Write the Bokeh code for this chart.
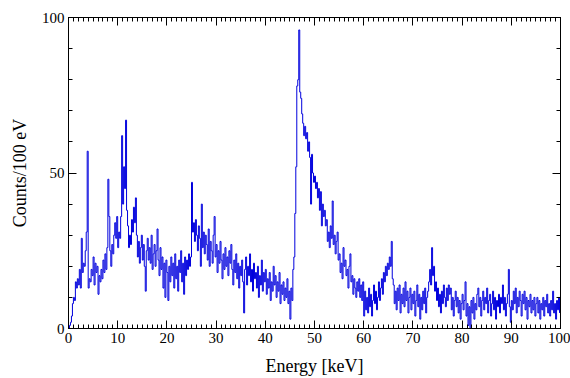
import numpy as np
from bokeh.plotting import figure
from bokeh.models import Range1d, LinearAxis, SingleIntervalTicker, ColumnDataSource
from bokeh.embed import file_html
from bokeh.resources import INLINE

# Counts per 0.2 keV step, segment by segment
counts_00_10 = [0, 1, 2, 4, 8, 10, 9, 15, 13, 16, 14, 19, 13, 29, 18, 21, 20, 25, 31, 57,
                13, 16, 15, 19, 17, 23, 14, 21, 18, 20, 11, 17, 15, 19, 16, 22, 18, 24, 19, 26,
                48, 36, 25, 20, 27, 24, 30, 34, 29, 36]
counts_10_20 = [26, 31, 29, 36, 62, 40, 52, 45, 67, 38, 33, 26, 30, 27, 35, 31, 39, 34, 42, 30,
                23, 28, 21, 26, 30, 22, 27, 20, 12, 25, 29, 22, 26, 21, 30, 19, 24, 27, 20, 25,
                32, 22, 17, 26, 19, 23, 13, 21, 10, 22]
counts_20_30 = [18, 9, 20, 15, 23, 17, 21, 13, 24, 16, 20, 12, 22, 18, 25, 15, 21, 11, 23, 17,
                22, 19, 24, 20, 23, 47, 31, 34, 28, 35, 30, 25, 33, 29, 20, 40, 26, 31, 24, 30,
                27, 22, 32, 20, 28, 25, 21, 30, 36, 23]
counts_30_40 = [27, 18, 25, 21, 28, 22, 16, 24, 19, 26, 20, 23, 17, 25, 21, 27, 19, 14, 22, 18,
                24, 16, 21, 13, 20, 17, 22, 15, 5, 19, 23, 14, 20, 17, 24, 15, 19, 12, 21, 16,
                18, 13, 20, 10, 17, 14, 22, 12, 18, 15]
counts_40_50 = [19, 11, 16, 13, 18, 9, 15, 12, 20, 14, 17, 10, 15, 12, 18, 8, 14, 11, 15, 9,
                13, 10, 16, 8, 12, 3, 13, 9, 19, 23, 37, 52, 78, 80, 96, 76, 74, 69, 66, 62,
                65, 61, 63, 57, 60, 55, 40, 56, 50, 47]
counts_50_60 = [49, 45, 47, 42, 45, 38, 44, 33, 40, 36, 38, 33, 35, 28, 31, 26, 33, 29, 41, 27,
                30, 24, 28, 31, 22, 24, 18, 21, 16, 26, 20, 22, 17, 19, 13, 20, 24, 15, 17, 11,
                16, 13, 10, 15, 12, 16, 10, 14, 9, 15]
counts_60_70 = [4, 12, 6, 10, 5, 13, 7, 11, 4, 9, 14, 8, 12, 6, 10, 15, 9, 13, 16, 11,
                18, 15, 20, 17, 21, 19, 23, 20, 28, 16, 14, 8, 12, 6, 13, 9, 14, 5, 11, 8,
                13, 7, 15, 9, 12, 5, 10, 13, 6, 11]
counts_70_80 = [8, 12, 4, 9, 14, 7, 11, 3, 10, 6, 12, 8, 13, 5, 10, 12, 15, 19, 14, 26,
                17, 20, 12, 15, 9, 13, 7, 11, 5, 12, 8, 14, 10, 7, 13, 9, 14, 11, 13, 6,
                10, 4, 9, 12, 7, 10, 5, 9, 3, 8]
counts_80_90 = [11, 6, 9, 15, 4, 8, 1, 7, 0, 9, 5, 10, 3, 8, 6, 11, 13, 7, 10, 4,
                9, 12, 6, 10, 8, 13, 5, 9, 11, 4, 8, 12, 6, 10, 3, 9, 7, 11, 5, 10,
                8, 14, 6, 10, 4, 8, 11, 19, 7, 2]
counts_90_100 = [9, 6, 12, 8, 13, 5, 10, 7, 12, 9, 4, 11, 8, 12, 6, 10, 3, 9, 7, 11,
                 5, 9, 6, 10, 4, 8, 10, 5, 9, 3, 8, 6, 10, 4, 9, 7, 11, 5, 8, 4,
                 9, 6, 12, 5, 8, 3, 9, 6, 10, 5]

counts = (counts_00_10 + counts_10_20 + counts_20_30 + counts_30_40 + counts_40_50 +
          counts_50_60 + counts_60_70 + counts_70_80 + counts_80_90 + counts_90_100)
energy = np.arange(len(counts)) * 0.2  # keV, bin left edges

x_ticks_major = 10
y_ticks_major = 50

FONT = "Liberation Serif"

p = figure(width=570, height=378, output_backend="svg", toolbar_location=None,
           x_range=Range1d(0, 100), y_range=Range1d(0, 100),
           min_border_left=68, min_border_right=10, min_border_top=17, min_border_bottom=50)
p.background_fill_color = "white"
p.border_fill_color = "white"
p.outline_line_color = "black"
p.outline_line_width = 1
p.xgrid.visible = False
p.ygrid.visible = False

src = ColumnDataSource(dict(x=energy, y=counts))
p.step("x", "y", source=src, mode="after", line_color="#0000dd", line_width=1)

def style(ax, labels=True):
    ax.axis_line_color = "black"
    ax.major_tick_line_color = "black"
    ax.minor_tick_line_color = "black"
    ax.major_tick_in = 8
    ax.major_tick_out = 0
    ax.minor_tick_in = 4
    ax.minor_tick_out = 0
    ax.major_label_text_font = FONT
    ax.major_label_text_color = "black"
    ax.axis_label_text_font = FONT
    ax.axis_label_text_font_style = "normal"
    ax.axis_label_text_color = "black"
    if labels:
        ax.major_label_text_font_size = "15px"
        ax.major_label_standoff = 4
    else:
        ax.major_label_text_font_size = "0px"
        ax.major_label_standoff = 0

xt = SingleIntervalTicker(interval=x_ticks_major, num_minor_ticks=10)
yt = SingleIntervalTicker(interval=y_ticks_major, num_minor_ticks=5)

p.xaxis.ticker = xt
p.yaxis.ticker = yt
style(p.xaxis[0])
style(p.yaxis[0])
p.xaxis.axis_label = "Energy [keV]"
p.yaxis.axis_label = "Counts/100 eV"
p.xaxis.axis_label_text_font_size = "18px"
p.yaxis.axis_label_text_font_size = "18px"
p.xaxis.axis_label_standoff = 10
p.yaxis.axis_label_standoff = 9

top = LinearAxis(ticker=SingleIntervalTicker(interval=x_ticks_major, num_minor_ticks=10))
style(top, labels=False)
p.add_layout(top, "above")
right = LinearAxis(ticker=SingleIntervalTicker(interval=y_ticks_major, num_minor_ticks=5))
style(right, labels=False)
p.add_layout(right, "right")

open("out.html", "w").write(file_html(p, INLINE))
